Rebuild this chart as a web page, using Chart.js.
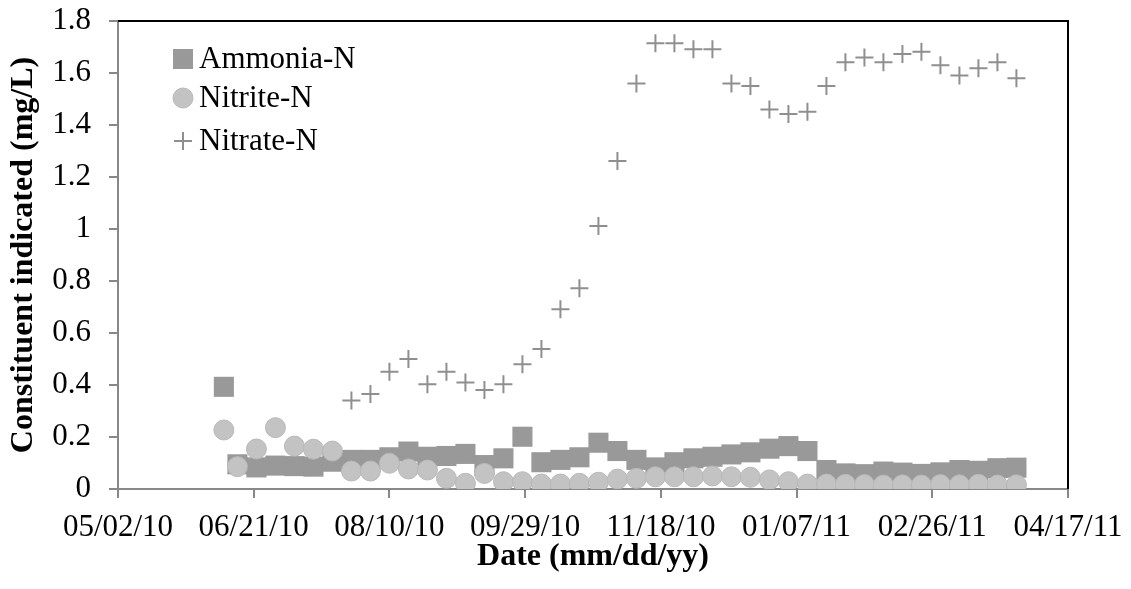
<!DOCTYPE html>
<html>
<head>
<meta charset="utf-8">
<script src="https://cdn.jsdelivr.net/npm/chart.js@4/dist/chart.umd.min.js"></script>
<style>
    body { margin: 0; background: #fff; }
    #wrap { width: 1131px; height: 589px; }
</style>
</head>
<body>
<div id="wrap"><canvas id="nitrogenChart" width="1131" height="589"></canvas></div>
<script>
// sampling dates (yyyy-mm-dd)
const sampleDates = [
    '2010-06-10', '2010-06-15', '2010-06-22', '2010-06-29', '2010-07-06', '2010-07-13',
    '2010-07-20', '2010-07-27', '2010-08-03', '2010-08-10', '2010-08-17', '2010-08-24',
    '2010-08-31', '2010-09-07', '2010-09-14', '2010-09-21', '2010-09-28', '2010-10-05',
    '2010-10-12', '2010-10-19', '2010-10-26', '2010-11-02', '2010-11-09', '2010-11-16',
    '2010-11-23', '2010-11-30', '2010-12-07', '2010-12-14', '2010-12-21', '2010-12-28',
    '2011-01-04', '2011-01-11', '2011-01-18', '2011-01-25', '2011-02-01', '2011-02-08',
    '2011-02-15', '2011-02-22', '2011-03-01', '2011-03-08', '2011-03-15', '2011-03-22',
    '2011-03-29'
];

const ammonia = [
    0.393, 0.095, 0.083, 0.090, 0.088, 0.086, 0.105, 0.112, 0.112, 0.122, 0.144,
    0.124, 0.127, 0.135, 0.092, 0.118, 0.201, 0.103, 0.112, 0.122, 0.178,
    0.146, 0.112, 0.083, 0.103, 0.118, 0.124, 0.133, 0.141, 0.155, 0.165, 0.146,
    0.073, 0.060, 0.057, 0.067, 0.063, 0.058, 0.064, 0.073, 0.070, 0.080, 0.082
];

const nitrite = [
    0.227, 0.086, 0.154, 0.236, 0.165, 0.153, 0.146, 0.069, 0.069, 0.099, 0.077,
    0.073, 0.041, 0.022, 0.060, 0.028, 0.028, 0.019, 0.019, 0.022, 0.026,
    0.038, 0.041, 0.047, 0.047, 0.047, 0.050, 0.047, 0.045, 0.035, 0.028, 0.019,
    0.019, 0.018, 0.017, 0.015, 0.016, 0.015, 0.017, 0.016, 0.018, 0.015, 0.016
];

// nitrate was not measured on the first seven dates
const nitrate = [
    null, null, null, null, null, null, null,
    0.340, 0.365, 0.451, 0.500, 0.403, 0.451, 0.410, 0.381, 0.403, 0.480, 0.538,
    0.691, 0.772, 1.012, 1.262, 1.560, 1.714, 1.714, 1.691, 1.691, 1.560, 1.550,
    1.460, 1.442, 1.451, 1.550, 1.641, 1.660, 1.641, 1.673, 1.682, 1.630, 1.590,
    1.618, 1.641, 1.580
];

const axisStart = '2010-05-02';
const axisDays = 350;
const dayStep = 50;
const yMax = 1.8;
const yStep = 0.2;

const DAY_MS = 86400000;
const serif = "'Liberation Serif', 'Times New Roman', serif";

function toUTC(s) {
    const p = s.split('-').map(Number);
    return Date.UTC(p[0], p[1] - 1, p[2]);
}

function dayOffset(s) {
    return Math.round((toUTC(s) - toUTC(axisStart)) / DAY_MS);
}

function formatDay(offset) {
    const d = new Date(toUTC(axisStart) + offset * DAY_MS);
    const mm = String(d.getUTCMonth() + 1).padStart(2, '0');
    const dd = String(d.getUTCDate()).padStart(2, '0');
    const yy = String(d.getUTCFullYear() % 100).padStart(2, '0');
    return mm + '/' + dd + '/' + yy;
}

function toPoints(values) {
    return sampleDates.map((d, i) => ({ x: dayOffset(d), y: values[i] }));
}

// black frame on the top and right of the plot area
const frameLines = {
    id: 'frameLines',
    afterDatasetsDraw(chart) {
        const a = chart.chartArea;
        const ctx = chart.ctx;
        ctx.save();
        ctx.strokeStyle = '#000';
        ctx.lineWidth = 2;
        ctx.beginPath();
        ctx.moveTo(a.left, a.top);
        ctx.lineTo(a.right, a.top);
        ctx.lineTo(a.right, a.bottom);
        ctx.stroke();
        ctx.restore();
    }
};

// legend drawn inside the plot, top left
const insideLegend = {
    id: 'insideLegend',
    afterDraw(chart) {
        const ctx = chart.ctx;
        const x0 = chart.chartArea.left + 65;
        const rows = [59, 98, 141];
        ctx.save();
        chart.data.datasets.forEach((ds, i) => {
            const y = rows[i];
            ctx.fillStyle = ds.backgroundColor;
            ctx.strokeStyle = ds.borderColor;
            ctx.lineWidth = ds.borderWidth;
            ctx.beginPath();
            if (ds.pointStyle === 'rect') {
                ctx.rect(x0 - 10, y - 10, 20, 20);
                ctx.fill();
            } else if (ds.pointStyle === 'circle') {
                ctx.arc(x0, y, 10, 0, Math.PI * 2);
                ctx.fill();
                ctx.stroke();
            } else {
                ctx.moveTo(x0 - 9, y);
                ctx.lineTo(x0 + 9, y);
                ctx.moveTo(x0, y - 9);
                ctx.lineTo(x0, y + 9);
                ctx.stroke();
            }
            ctx.fillStyle = '#000';
            ctx.font = '31px ' + serif;
            ctx.textBaseline = 'middle';
            ctx.fillText(ds.label, x0 + 16, y + 1);
        });
        ctx.restore();
    }
};

const ctx = document.getElementById('nitrogenChart').getContext('2d');
const nitrogenChart = new Chart(ctx, {
    type: 'scatter',
    data: {
        datasets: [{
            label: 'Ammonia-N',
            data: toPoints(ammonia),
            pointStyle: 'rect',
            pointRadius: 14.2,
            backgroundColor: '#999999',
            borderColor: '#999999',
            borderWidth: 0,
            order: 3
        }, {
            label: 'Nitrite-N',
            data: toPoints(nitrite),
            pointStyle: 'circle',
            pointRadius: 10,
            backgroundColor: '#c3c3c3',
            borderColor: '#b8b8b8',
            borderWidth: 1,
            order: 2
        }, {
            label: 'Nitrate-N',
            data: toPoints(nitrate),
            pointStyle: 'cross',
            pointRadius: 9,
            backgroundColor: '#8f8f8f',
            borderColor: '#8f8f8f',
            borderWidth: 2,
            order: 1
        }]
    },
    options: {
        responsive: false,
        animation: false,
        devicePixelRatio: 1,
        events: [],
        layout: {
            padding: { left: 0, right: 63, top: 21, bottom: 0 }
        },
        scales: {
            x: {
                type: 'linear',
                min: 0,
                max: axisDays,
                afterFit: (scale) => {
                    scale.height = 100;
                    scale.paddingLeft = 0;
                    scale.paddingRight = 0;
                },
                ticks: {
                    stepSize: dayStep,
                    padding: 11,
                    maxRotation: 0,
                    color: '#000',
                    font: { family: serif, size: 31 },
                    callback: (value) => formatDay(value)
                },
                grid: {
                    drawOnChartArea: false,
                    drawTicks: true,
                    tickLength: 9,
                    color: '#888',
                    lineWidth: 2
                },
                border: { color: '#888', width: 2 },
                title: {
                    display: true,
                    text: 'Date (mm/dd/yy)',
                    color: '#000',
                    font: { family: serif, size: 32, weight: 'bold' },
                    padding: { top: 0, bottom: 13 }
                }
            },
            y: {
                min: 0,
                max: yMax,
                afterFit: (scale) => {
                    scale.width = 118;
                    scale.paddingTop = 0;
                    scale.paddingBottom = 0;
                },
                ticks: {
                    stepSize: yStep,
                    padding: 18,
                    color: '#000',
                    font: { family: serif, size: 31 },
                    callback: (value) => String(Number(value.toFixed(1)))
                },
                grid: {
                    drawOnChartArea: false,
                    drawTicks: true,
                    tickLength: 9,
                    color: '#888',
                    lineWidth: 2
                },
                border: { color: '#888', width: 2 },
                title: {
                    display: true,
                    text: 'Constituent indicated (mg/L)',
                    color: '#000',
                    font: { family: serif, size: 32, weight: 'bold' },
                    padding: { top: 5, bottom: 0 }
                }
            }
        },
        plugins: {
            legend: { display: false },
            tooltip: { enabled: false }
        }
    },
    plugins: [frameLines, insideLegend]
});
</script>
</body>
</html>
